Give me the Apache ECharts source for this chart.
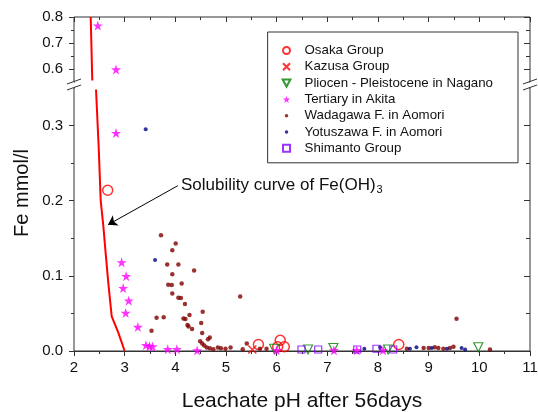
<!DOCTYPE html>
<html>
<head>
<meta charset="utf-8">
<script src="https://cdn.jsdelivr.net/npm/echarts@6/dist/echarts.min.js"></script>
<style>
  html, body { margin: 0; padding: 0; background: #fff; }
  #main { width: 538px; height: 412px; }
</style>
</head>
<body>
<div id="main"></div>
<script>
// solubility curve of Fe(OH)3
var curvePh = [2.33, 2.36, 2.434, 2.468, 2.49, 2.527, 2.578, 2.62, 2.677, 2.744, 2.874, 3.0];
var curveFe = [0.8, 0.56, 0.349, 0.299, 0.267, 0.2, 0.167, 0.134, 0.0907, 0.046, 0.0245, 0.0];

var osakaPh = [2.665, 5.64, 6.07, 6.02, 6.15, 8.41];
var osakaFe = [0.214, 0.0086, 0.0143, 0.0056, 0.0056, 0.0086];

var kazusaPh = [5.52];
var kazusaFe = [0.002];

var pliocenPh = [5.95, 6.62, 7.12, 8.2, 9.98];
var pliocenFe = [0.003, 0.002, 0.004, 0.002, 0.005];

var tertiaryPh = [2.47, 2.83, 2.83, 2.94, 3.03, 2.97, 3.08, 3.02, 3.26, 3.42, 3.49, 3.55, 3.85, 4.03, 4.43, 6.0, 7.13, 7.58, 8.1];
var tertiaryFe = [0.767, 0.598, 0.29, 0.118, 0.0996, 0.0837, 0.067, 0.0506, 0.032, 0.0077, 0.0064, 0.006, 0.0024, 0.0024, 0.0007, 0.001, 0.001, 0.001, 0.001];

var wadagawaPh = [3.717, 4.007, 3.94, 3.84, 4.06, 4.37, 3.94, 4.125, 3.86, 3.93, 3.94, 4.06, 4.11, 4.19, 4.54, 4.28, 3.63, 3.77, 4.16, 4.2,
  4.51, 4.24, 4.26, 4.33, 3.53, 4.53, 4.68, 4.645, 4.49, 4.53, 4.57, 4.62, 4.68, 4.84, 4.9, 5.09, 5.28, 5.41, 5.33, 4.75,
  4.99, 9.55, 9.49, 10.21, 5.67, 5.8, 8.57, 8.9, 9.0, 9.12, 9.19, 9.29, 9.42];
var wadagawaFe = [0.154, 0.143, 0.134, 0.115, 0.115, 0.107, 0.102, 0.0898, 0.088, 0.0877, 0.0766, 0.0709, 0.0704, 0.0625, 0.0523, 0.048, 0.0444, 0.0448, 0.0434, 0.0426,
  0.0373, 0.0347, 0.0325, 0.0294, 0.0268, 0.0241, 0.0179, 0.0156, 0.013, 0.0099, 0.0073, 0.0046, 0.0037, 0.0046, 0.0037, 0.0046, 0.0726, 0.0099, 0.0024, 0.0024,
  0.003, 0.043, 0.0056, 0.002, 0.003, 0.003, 0.003, 0.004, 0.004, 0.005, 0.004, 0.003, 0.004];

var yotuszawaPh = [3.415, 3.6, 7.73, 8.04, 8.63, 8.76, 9.06, 9.36, 9.65, 9.72];
var yotuszawaFe = [0.295, 0.121, 0.003, 0.005, 0.003, 0.005, 0.004, 0.003, 0.004, 0.002];

var shimantoPh = [6.49, 6.82, 7.59, 7.97, 8.3];
var shimantoFe = [0.002, 0.002, 0.002, 0.003, 0.002];

// axis ticks (y axis is broken in two panels)
var upperTicks = [0.6, 0.7, 0.8];
var upperMinor = [0.65, 0.75];
var lowerTicks = [0, 0.1, 0.2, 0.3];
var lowerMinor = [0.05, 0.15, 0.25];

var arrowFrom = [4.05, 0.22];
var arrowTo = [2.67, 0.168];

var FONT = 'Liberation Sans';
var AXIS = '#333';
var HIDDEN = 'rgba(0,0,0,0)';
var STAR = 'path://M50,0L61.8,35.1L98.8,35.1L68.9,56.8L80.3,91.9L50,70.2L19.7,91.9L31.1,56.8L1.2,35.1L38.2,35.1Z';
var CROSS = 'path://M0,0L10,10M10,0L0,10';
// legend icons (paths keep their aspect inside the legend box)
var L_CIRCLE = 'path://M0,5A5,5,0,1,1,10,5A5,5,0,1,1,0,5Z';
var L_DOT = 'path://M0,0M10,10M2.5,5A2.5,2.5,0,1,1,7.5,5A2.5,2.5,0,1,1,2.5,5Z';
var L_RECT = 'path://M0,0L10,0L10,10L0,10Z';
var L_TRI = 'path://M0,0L10,0L5,9Z';

function pairs(xs, ys) {
  return xs.map(function (x, i) { return [x, ys[i]]; });
}

var groups = [
  { name: 'Osaka Group', data: pairs(osakaPh, osakaFe), symbol: 'circle', size: 10, icon: L_CIRCLE,
    style: { color: HIDDEN, borderColor: '#ff0000', borderWidth: 1.5 } },
  { name: 'Kazusa Group', data: pairs(kazusaPh, kazusaFe), symbol: CROSS, size: 8, icon: CROSS,
    style: { color: HIDDEN, borderColor: '#ff0000', borderWidth: 1.5 } },
  { name: 'Pliocen - Pleistocene in Nagano', data: pairs(pliocenPh, pliocenFe), symbol: 'triangle', size: 9, rotate: 180, icon: L_TRI,
    style: { color: HIDDEN, borderColor: '#008000', borderWidth: 1.2 } },
  { name: 'Tertiary in Akita', data: pairs(tertiaryPh, tertiaryFe), symbol: STAR, size: 10, icon: STAR,
    style: { color: '#ff00ff' } },
  { name: 'Wadagawa F. in Aomori', data: pairs(wadagawaPh, wadagawaFe), symbol: 'circle', size: 4.5, icon: L_DOT,
    style: { color: '#800000' } },
  { name: 'Yotuszawa F. in Aomori', data: pairs(yotuszawaPh, yotuszawaFe), symbol: 'circle', size: 4, icon: L_DOT,
    style: { color: '#000080' } },
  { name: 'Shimanto Group', data: pairs(shimantoPh, shimantoFe), symbol: 'rect', size: 7, icon: L_RECT,
    style: { color: HIDDEN, borderColor: '#8000ff', borderWidth: 1.2 } }
];

// tick-only axes keep tiny transparent labels tucked inside the plot
function yAxisDef(grid, pos, min, max, ticks, len, inside, labels) {
  return {
    type: 'value', gridIndex: grid, position: pos, min: min, max: max,
    axisLine: { show: false, onZero: false },
    axisTick: { show: true, inside: inside, length: len, customValues: ticks, lineStyle: { color: AXIS } },
    axisLabel: labels ? {
      show: true, customValues: ticks, margin: 11, color: '#111', fontSize: 15, fontFamily: FONT,
      formatter: function (v) { return v.toFixed(1); }
    } : {
      show: true, customValues: ticks, margin: -12, color: HIDDEN, fontSize: 2,
      formatter: function (v) { return v.toFixed(1); }
    },
    splitLine: { show: false }
  };
}

var series = [];
groups.forEach(function (g) {
  [0, 1].forEach(function (panel) {
    series.push({
      name: g.name,
      type: 'scatter',
      xAxisIndex: panel,
      yAxisIndex: panel === 0 ? 0 : 4,
      symbol: g.symbol,
      symbolSize: g.size,
      symbolRotate: g.rotate || 0,
      itemStyle: g.style,
      data: g.data.filter(function (p) { return panel === 0 ? p[1] > 0.45 : p[1] <= 0.45; })
    });
  });
});

[0, 1].forEach(function (panel) {
  var s = {
    name: 'curve',
    type: 'line',
    xAxisIndex: panel,
    yAxisIndex: panel === 0 ? 0 : 4,
    showSymbol: false,
    clip: true,
    lineStyle: { color: '#ff0000', width: 2 },
    itemStyle: { color: '#ff0000' },
    z: 1,
    data: pairs(curvePh, curveFe)
  };
  if (panel === 1) {
    s.markLine = {
      silent: true,
      symbol: ['none', 'arrow'],
      symbolSize: 9,
      lineStyle: { color: '#000', width: 1, type: 'solid' },
      label: { show: false },
      data: [[{ coord: arrowFrom }, { coord: arrowTo }]]
    };
  }
  series.push(s);
});

var gridFrame = {
  show: true, borderColor: AXIS, borderWidth: 1, backgroundColor: HIDDEN,
  containLabel: false, outerBoundsMode: 'none'
};

var option = {
  animation: false,
  backgroundColor: '#fff',
  textStyle: { fontFamily: FONT },
  grid: [
    Object.assign({ left: 74, right: 8, top: 17, height: 65 }, gridFrame),
    Object.assign({ left: 74, right: 8, top: 88, height: 263 }, gridFrame)
  ],
  xAxis: [
    {
      type: 'value', gridIndex: 0, position: 'top', min: 2, max: 11, interval: 1,
      axisLine: { show: false, onZero: false },
      axisTick: { show: true, inside: true, length: 5, lineStyle: { color: AXIS } },
      minorTick: { show: true, splitNumber: 2, length: 3, lineStyle: { color: AXIS } },
      axisLabel: { show: true, color: HIDDEN, fontSize: 2, margin: -12 },
      splitLine: { show: false }
    },
    {
      type: 'value', gridIndex: 1, position: 'bottom', min: 2, max: 11, interval: 1,
      axisLine: { show: true, onZero: false, lineStyle: { color: AXIS } },
      axisTick: { length: 5, lineStyle: { color: AXIS } },
      minorTick: { show: true, splitNumber: 2, length: 3, lineStyle: { color: AXIS } },
      axisLabel: { margin: 9, color: '#111', fontSize: 15, fontFamily: FONT },
      splitLine: { show: false }
    }
  ],
  yAxis: [
    yAxisDef(0, 'left', 0.55, 0.8, upperTicks, 5, false, true),
    yAxisDef(0, 'left', 0.55, 0.8, upperMinor, 3, false, false),
    yAxisDef(0, 'right', 0.55, 0.8, upperTicks, 6, true, false),
    yAxisDef(0, 'right', 0.55, 0.8, upperMinor, 4, true, false),
    yAxisDef(1, 'left', 0, 0.35, lowerTicks, 5, false, true),
    yAxisDef(1, 'left', 0, 0.35, lowerMinor, 3, false, false),
    yAxisDef(1, 'right', 0, 0.35, lowerTicks, 6, true, false),
    yAxisDef(1, 'right', 0, 0.35, lowerMinor, 4, true, false)
  ],
  legend: {
    orient: 'vertical',
    right: 20,
    top: 32,
    padding: [12, 25, 8, 14],
    itemWidth: 26,
    itemHeight: 7,
    itemGap: 3.3,
    borderColor: '#333',
    borderWidth: 1,
    textStyle: { fontSize: 13.3, color: '#111', fontFamily: FONT },
    data: groups.map(function (g) { return { name: g.name, icon: g.icon }; })
  },
  graphic: [
    // white band hides the inner grid borders at the axis break
    { type: 'rect', z: 3, shape: { x: 75, y: 80.5, width: 454, height: 9 }, style: { fill: '#fff' } },
    { type: 'text', x: 22, y: 193, rotation: Math.PI / 2,
      style: { text: 'Fe mmol/l', fontSize: 20, fontFamily: FONT, fill: '#111', align: 'center', verticalAlign: 'middle' } },
    { type: 'text', x: 302, y: 401,
      style: { text: 'Leachate pH after 56days', fontSize: 21, fontFamily: FONT, fill: '#111', align: 'center', verticalAlign: 'middle' } },
    { type: 'text', x: 181, y: 185,
      style: {
        text: '{a|Solubility curve of Fe(OH)}{b|3}',
        verticalAlign: 'middle',
        rich: {
          a: { fontSize: 17, fontFamily: FONT, fill: '#111', color: '#111' },
          b: { fontSize: 11, fontFamily: FONT, fill: '#111', color: '#111', padding: [9, 0, 0, 1] }
        }
      } },
    { type: 'line', z: 101, shape: { x1: 67, y1: 84, x2: 81, y2: 79 }, style: { stroke: AXIS, lineWidth: 1 } },
    { type: 'line', z: 101, shape: { x1: 67, y1: 90, x2: 81, y2: 85 }, style: { stroke: AXIS, lineWidth: 1 } },
    { type: 'line', z: 101, shape: { x1: 523, y1: 84, x2: 537, y2: 79 }, style: { stroke: AXIS, lineWidth: 1 } },
    { type: 'line', z: 101, shape: { x1: 523, y1: 90, x2: 537, y2: 85 }, style: { stroke: AXIS, lineWidth: 1 } }
  ],
  series: series
};

var chart = echarts.init(document.getElementById('main'));
chart.setOption(option);
</script>
</body>
</html>
